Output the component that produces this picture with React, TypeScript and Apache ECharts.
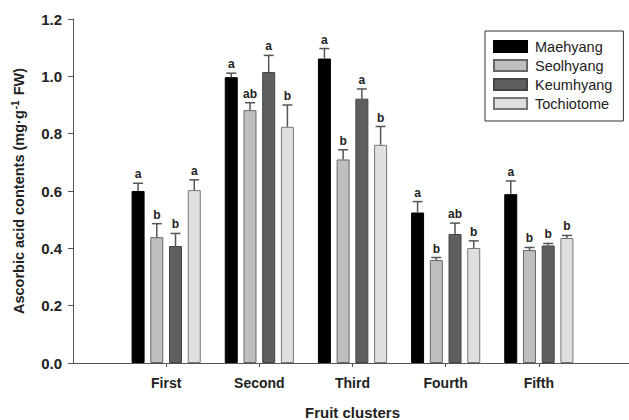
import React, { useEffect, useRef } from "react";
import * as echarts from "echarts";

const categories = ["First", "Second", "Third", "Fourth", "Fifth"];
const seriesNames = ["Maehyang", "Seolhyang", "Keumhyang", "Tochiotome"];
const maehyang = [0.6, 0.997, 1.062, 0.525, 0.589];
const seolhyang = [0.439, 0.882, 0.71, 0.359, 0.394];
const keumhyang = [0.408, 1.015, 0.922, 0.45, 0.41];
const tochiotome = [0.603, 0.824, 0.761, 0.401, 0.436];
const maehyangErr = [0.027, 0.014, 0.035, 0.038, 0.046];
const seolhyangErr = [0.047, 0.026, 0.034, 0.009, 0.009];
const keumhyangErr = [0.044, 0.058, 0.034, 0.038, 0.007];
const tochiotomeErr = [0.036, 0.076, 0.064, 0.025, 0.009];
const maehyangLetters = ["a", "a", "a", "a", "a"];
const seolhyangLetters = ["b", "ab", "b", "b", "b"];
const keumhyangLetters = ["b", "a", "a", "ab", "b"];
const tochiotomeLetters = ["a", "b", "b", "b", "b"];
const yTicks = [0, 0.2, 0.4, 0.6, 0.8, 1.0, 1.2];

const FONT = "'Liberation Sans', Arial, Helvetica, sans-serif";

export default function App() {
  const ref = useRef<HTMLDivElement>(null);
  useEffect(() => {
    if (!ref.current) return;
    const chart = echarts.init(ref.current, undefined, { renderer: "svg" });
    const values = [maehyang, seolhyang, keumhyang, tochiotome];
    const errs = [maehyangErr, seolhyangErr, keumhyangErr, tochiotomeErr];
    const letters = [maehyangLetters, seolhyangLetters, keumhyangLetters, tochiotomeLetters];
    const fills = ["#000000", "#bfbfbf", "#5f5f5f", "#dfdfdf"];
    const borders = ["#000000", "#666666", "#444444", "#777777"];
    const axisCats = [" ", ...categories, "  "];
    const barW = 13;
    const gapRatio = 0.44;
    const step = barW * (1 + gapRatio);

    const bars = values.map((vals, si) => ({
      type: "bar",
      name: seriesNames[si],
      barWidth: barW,
      barGap: gapRatio * 100 + "%",
      data: categories.map((c, i) => [c, vals[i]]),
      itemStyle: { color: fills[si], borderColor: borders[si], borderWidth: 1 },
      z: 2,
    }));

    const errSeries = values.map((vals, si) => ({
      type: "custom",
      name: seriesNames[si] + " err",
      data: categories.map((c, i) => [c, vals[i], errs[si][i]]),
      encode: { x: 0, y: 1 },
      z: 3,
      renderItem: (params: any, api: any) => {
        const ci = api.value(0);
        const v = api.value(1);
        const e = api.value(2);
        const base = api.coord([ci, v]);
        const top = api.coord([ci, v + e]);
        const x = base[0] + (si - 1.5) * step;
        const st = { stroke: "#555555", lineWidth: 1.5 };
        return {
          type: "group",
          children: [
            { type: "line", shape: { x1: x, y1: base[1], x2: x, y2: top[1] }, style: st },
            { type: "line", shape: { x1: x - 5, y1: top[1], x2: x + 5, y2: top[1] }, style: st },
            {
              type: "text",
              x: x,
              y: top[1] - 3,
              style: {
                text: letters[si][params.dataIndex],
                textAlign: "center",
                textVerticalAlign: "bottom",
                fontFamily: FONT,
                fontWeight: "bold",
                fontSize: 12,
                fill: "#222222",
              },
            },
          ],
        };
      },
    }));

    chart.setOption({
      animation: false,
      backgroundColor: "#ffffff",
      textStyle: { fontFamily: FONT },
      grid: { left: 73, right: -3, top: 19, bottom: 57, outerBoundsMode: "none", containLabel: false },
      legend: {
        data: seriesNames,
        orient: "vertical",
        left: 485,
        top: 31,
        itemWidth: 33,
        itemHeight: 11,
        itemGap: 4,
        padding: [8, 11, 10, 8],
        borderColor: "#333333",
        borderWidth: 1,
        icon: "rect",
        textStyle: { fontFamily: FONT, fontSize: 14.5, color: "#222222", padding: [0, 0, 0, 3] },
      },
      xAxis: {
        type: "category",
        data: axisCats,
        boundaryGap: false,
        name: "Fruit clusters",
        nameLocation: "middle",
        nameGap: 42,
        nameTextStyle: { fontFamily: FONT, fontWeight: "bold", fontSize: 15, color: "#222222" },
        axisLine: { lineStyle: { color: "#555555", width: 1 } },
        axisTick: {
          length: 4,
          interval: (i: number) => i > 0 && i < axisCats.length - 1,
          lineStyle: { color: "#555555" },
        },
        axisLabel: {
          interval: 0,
          margin: 13,
          fontFamily: FONT,
          fontWeight: "bold",
          fontSize: 14,
          color: "#222222",
        },
        splitLine: { show: false },
      },
      yAxis: {
        type: "value",
        min: yTicks[0],
        max: yTicks[yTicks.length - 1],
        interval: 0.2,
        name: "{t|Ascorbic acid contents (mg·g}{s|-1}{t| FW)}",
        nameLocation: "middle",
        nameRotate: 90,
        nameGap: 45,
        nameTextStyle: {
          rich: {
            t: { fontFamily: FONT, fontWeight: "bold", fontSize: 14.5, color: "#222222" },
            s: { fontFamily: FONT, fontWeight: "bold", fontSize: 10, color: "#222222", verticalAlign: "top", padding: [0, 1, 8, 1] },
          },
        },
        axisLine: { show: true, lineStyle: { color: "#555555", width: 1 } },
        axisTick: { show: true, length: 5, lineStyle: { color: "#555555" } },
        axisLabel: {
          margin: 11,
          fontFamily: FONT,
          fontWeight: "bold",
          fontSize: 15,
          color: "#222222",
          formatter: (v: number) => v.toFixed(1),
        },
        splitLine: { show: false },
      },
      series: [...bars, ...errSeries],
    });
    return () => chart.dispose();
  }, []);
  return (
    <div
      ref={ref}
      style={{ position: "fixed", left: 0, top: 0, width: 629, height: 420, background: "#fff" }}
    />
  );
}
